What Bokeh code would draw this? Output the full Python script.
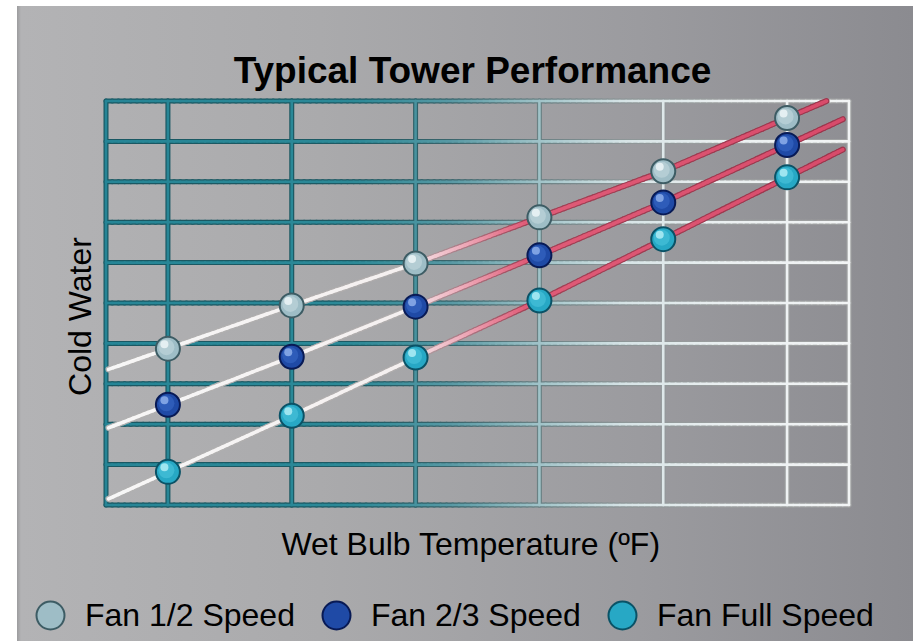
import numpy as np
from bokeh.plotting import figure
from bokeh.models import (Range1d, Label, Legend, LegendItem,
                          GlobalInlineStyleSheet, ColumnDataSource)
from bokeh.embed import file_html
from bokeh.resources import INLINE

# ---------------- data ----------------
wet_bulb = [1, 2, 3, 4, 5, 6]
fan_half_speed = [3.87, 4.94, 5.98, 7.12, 8.26, 9.58]
fan_two_thirds_speed = [2.48, 3.67, 4.91, 6.18, 7.49, 8.91]
fan_full_speed = [0.82, 2.21, 3.65, 5.06, 6.58, 8.11]
series_labels = ["Fan 1/2 Speed", "Fan 2/3 Speed", "Fan Full Speed"]
x_gridlines = [0.5, 1, 2, 3, 4, 5, 6, 6.5]
y_gridlines = [0, 1, 2, 3, 4, 5, 6, 7, 8, 9, 10]
title_text = "Typical Tower Performance"
x_label = "Wet Bulb Temperature (ºF)"
y_label = "Cold Water"

# ---------------- geometry / style ----------------
FIG_W, FIG_H = 897, 636
X_MIN, X_MAX = 0.5, 6.5
Y_MIN, Y_MAX = 0, 10
GRID_LEFT, GRID_RIGHT = 105.5, 848.5      # pixels of the grid box
GRID_TOP, GRID_BOTTOM = 100.5, 504.5
PX_X = (GRID_RIGHT - GRID_LEFT) / (X_MAX - X_MIN)
PX_Y = (GRID_BOTTOM - GRID_TOP) / (Y_MAX - Y_MIN)
X_START = X_MIN - GRID_LEFT / PX_X
Y_END = Y_MAX + GRID_TOP / PX_Y
LINE_X_START, LINE_X_END = 0.52, 6.45
FONT = "Liberation Sans"


def data_x(px):
    return X_MIN + (px - GRID_LEFT) / PX_X


def data_y(py):
    return Y_MIN + (GRID_BOTTOM - py) / PX_Y


GRID_X = [0.5, 2.5, 3.3, 4.0, 4.7, 5.5, 6.5]
GRID_RGB = [(38, 133, 150), (44, 137, 151), (88, 153, 164), (160, 195, 200),
            (215, 228, 230), (235, 240, 241), (242, 244, 245)]
LINE_X = [0.5, 2.9, 3.4, 3.9, 6.5]
LINE_RGB = [(247, 247, 247), (245, 240, 240), (238, 170, 185), (224, 92, 120), (216, 74, 106)]

MARKERS = [
    dict(edge="#3d5c64", main="#9ebdc6", light="#c6dbe0", hi="#f0f7f9"),
    dict(edge="#081a55", main="#1f4aa6", light="#3b6bc8", hi="#94b4ee"),
    dict(edge="#0a5266", main="#27a8c5", light="#50c6df", hi="#b6f0f8"),
]


def hexcol(rgb):
    return "#%02x%02x%02x" % tuple(int(round(min(255, max(0, c)))) for c in rgb)


def ramp(sx, srgb, x, factor=1.0):
    arr = np.array(srgb, float)
    return hexcol([np.interp(x, sx, arr[:, k]) * factor for k in range(3)])


def split_polyline(xs, ys, step, sx, srgb, factor):
    d = dict(x0=[], y0=[], x1=[], y1=[], c=[])
    for i in range(len(xs) - 1):
        n = max(1, int(np.ceil(abs(xs[i + 1] - xs[i]) / step)))
        for k in range(n):
            t0, t1 = k / n, (k + 1) / n
            ax = xs[i] + (xs[i + 1] - xs[i]) * t0
            bx = xs[i] + (xs[i + 1] - xs[i]) * t1
            ay = ys[i] + (ys[i + 1] - ys[i]) * t0
            by = ys[i] + (ys[i + 1] - ys[i]) * t1
            d["x0"].append(ax); d["y0"].append(ay)
            d["x1"].append(bx); d["y1"].append(by)
            d["c"].append(ramp(sx, srgb, (ax + bx) / 2, factor))
    return d


def merge(dicts):
    out = dict(x0=[], y0=[], x1=[], y1=[], c=[])
    for d in dicts:
        for k in out:
            out[k].extend(d[k])
    return out


def extend(xs, ys):
    s0 = (ys[1] - ys[0]) / (xs[1] - xs[0])
    s1 = (ys[-1] - ys[-2]) / (xs[-1] - xs[-2])
    xa, ya = LINE_X_START, ys[0] + (LINE_X_START - xs[0]) * s0
    xb, yb = LINE_X_END, ys[-1] + (LINE_X_END - xs[-1]) * s1
    if yb > Y_MAX:
        xb = xs[-1] + (Y_MAX - ys[-1]) / s1
        yb = Y_MAX
    return [xa] + list(xs) + [xb], [ya] + list(ys) + [yb]


# ---------------- figure ----------------
p = figure(width=FIG_W, height=FIG_H, min_border=0,
           x_range=Range1d(X_START, X_START + FIG_W / PX_X),
           y_range=Range1d(Y_END - FIG_H / PX_Y, Y_END),
           output_backend="svg", toolbar_location=None)
p.background_fill_alpha = 0
p.border_fill_alpha = 0
p.outline_line_color = None
p.xgrid.visible = False
p.ygrid.visible = False
p.xaxis.visible = False
p.yaxis.visible = False

# texts (anchored at their vertical middle)
p.add_layout(Label(x=data_x(472), y=data_y(70), text=title_text,
                   text_align="center", text_baseline="middle",
                   text_font=FONT, text_font_size="37px", text_font_style="bold",
                   text_color="black"))
p.add_layout(Label(x=data_x(470.5), y=data_y(543), text=x_label,
                   text_align="center", text_baseline="middle",
                   text_font=FONT, text_font_size="32px", text_color="black"))
p.add_layout(Label(x=data_x(79), y=data_y(316), text=y_label, angle=np.pi / 2,
                   text_align="center", text_baseline="middle",
                   text_font=FONT, text_font_size="32px", text_color="black"))

# grid (gradient teal -> white)
for factor, width in ((0.66, 5), (1.0, 2.6)):
    parts = []
    for y in y_gridlines:
        parts.append(split_polyline([X_MIN, X_MAX], [y, y], 0.05, GRID_X, GRID_RGB, factor))
    for x in x_gridlines:
        parts.append(split_polyline([x, x], [Y_MIN, Y_MAX], 20, GRID_X, GRID_RGB, factor))
    src = ColumnDataSource(merge(parts))
    p.segment("x0", "y0", "x1", "y1", source=src, line_color="c",
              line_width=width, line_cap="round")

# series lines (white -> red)
series = [fan_half_speed, fan_two_thirds_speed, fan_full_speed]
for factor, width in ((0.72, 6), (1.0, 3.6)):
    parts = []
    for ys in series:
        lx, ly = extend(wet_bulb, ys)
        parts.append(split_polyline(lx, ly, 0.04, LINE_X, LINE_RGB, factor))
    src = ColumnDataSource(merge(parts))
    p.segment("x0", "y0", "x1", "y1", source=src, line_color="c",
              line_width=width, line_cap="round")

# markers (shaded spheres)
legend_items = []
for ys, lab, m in zip(series, series_labels, MARKERS):
    base = p.scatter(wet_bulb, ys, marker="circle", size=24,
                     fill_color=m["main"], line_color=m["edge"], line_width=2)
    p.scatter([x - 1.5 / PX_X for x in wet_bulb], [y + 1.5 / PX_Y for y in ys],
              marker="circle", size=16, fill_color=m["light"], fill_alpha=0.55,
              line_color=None)
    p.scatter([x - 3.5 / PX_X for x in wet_bulb], [y + 4.5 / PX_Y for y in ys],
              marker="circle", size=8, fill_color=m["hi"], fill_alpha=0.8,
              line_color=None)
    legend_items.append(LegendItem(label=lab, renderers=[base]))

legend = Legend(items=legend_items, location=(15, FIG_H - 650), orientation="horizontal",
                glyph_width=70, glyph_height=70, label_standoff=0, spacing=6,
                padding=0, margin=0, label_text_font=FONT,
                label_text_font_size="32px", label_text_color="black",
                border_line_alpha=0, background_fill_alpha=0)
p.add_layout(legend)

css = """
html {
  background:
    linear-gradient(to bottom, #ffffff 0px, #ffffff 6px, rgba(255,255,255,0) 6px),
    linear-gradient(to right, #ffffff 0px, #ffffff 17px, #9c9c9e 17px, #b3b3b5 21px,
                    #aaaaac 35%, #9b9b9f 70%, #8b8b90 100%);
  min-height: 100%;
}
body { background: transparent; }
"""
p.stylesheets = [GlobalInlineStyleSheet(css=css)]

open("out.html", "w").write(file_html(p, INLINE))
